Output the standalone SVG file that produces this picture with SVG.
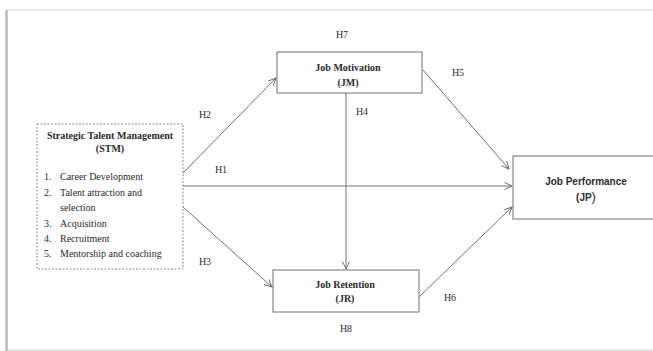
<svg xmlns="http://www.w3.org/2000/svg" width="653" height="351" viewBox="0 0 653 351">
<style>
.t{font-family:"Liberation Serif","Times New Roman",serif;font-size:10px;fill:#2a2a2a}
.b{font-weight:bold}
.s{font-family:"Liberation Sans",Arial,sans-serif;font-size:10px;font-weight:bold;fill:#2a2a2a}
.box{fill:#fff;stroke:#6e6e6e;stroke-width:1}
.c line{stroke:#707070;stroke-width:1;marker-end:url(#ah)}
</style>
<defs>
<marker id="ah" markerUnits="userSpaceOnUse" markerWidth="10" markerHeight="10" refX="8" refY="4" orient="auto">
<path d="M0.5,0.5 L8,4 L0.5,7.5" fill="none" stroke="#707070" stroke-width="1"/>
</marker>
</defs>
<rect width="653" height="351" fill="#fff"/>
<g id="frame">
<line x1="7" y1="10" x2="653" y2="10" stroke="#e6e6e6" stroke-width="1.5"/>
<line x1="7" y1="350" x2="653" y2="350" stroke="#dcdcdc" stroke-width="1.5"/>
<line x1="6.5" y1="10" x2="6.5" y2="351" stroke="#b8b8b8" stroke-width="2.5"/>
</g>
<g class="c" id="connectors">
<line x1="183" y1="173" x2="276" y2="78"/>
<line x1="183" y1="186" x2="512" y2="186"/>
<line x1="183" y1="207" x2="272" y2="287"/>
<line x1="346" y1="93" x2="346" y2="269"/>
<line x1="423" y1="70" x2="509" y2="169"/>
<line x1="419" y1="297" x2="512" y2="207"/>
</g>
<g id="labels" class="t" text-anchor="middle">
<text x="342" y="38">H7</text>
<text x="458" y="76">H5</text>
<text x="205" y="118">H2</text>
<text x="362" y="115">H4</text>
<text x="221" y="173">H1</text>
<text x="205" y="265">H3</text>
<text x="450" y="301">H6</text>
<text x="346" y="332">H8</text>
</g>
<g id="STM">
<rect x="37" y="124" width="146" height="145" fill="#fff" stroke="#8a8a8a" stroke-width="1" stroke-dasharray="2,1.5"/>
<text class="t b" x="110" y="138.5" text-anchor="middle">Strategic Talent Management</text>
<text class="t b" x="110" y="151.5" text-anchor="middle">(STM)</text>
<g class="t">
<text x="44" y="179.5">1.</text><text x="60" y="179.5">Career Development</text>
<text x="44" y="195.5">2.</text><text x="60" y="195.5">Talent attraction and</text>
<text x="60" y="210.5">selection</text>
<text x="44" y="226.5">3.</text><text x="60" y="226.5">Acquisition</text>
<text x="44" y="241.5">4.</text><text x="60" y="241.5">Recruitment</text>
<text x="44" y="256.5">5.</text><text x="60" y="256.5">Mentorship and coaching</text>
</g>
</g>
<g id="JM">
<rect class="box" x="277" y="52" width="145" height="41"/>
<text class="t b" x="348" y="70.5" text-anchor="middle">Job Motivation</text>
<text class="t b" x="348" y="85.5" text-anchor="middle">(JM)</text>
</g>
<g id="JR">
<rect class="box" x="273" y="270" width="146" height="42"/>
<text class="t b" x="345" y="287.5" text-anchor="middle">Job Retention</text>
<text class="t b" x="345" y="301.5" text-anchor="middle">(JR)</text>
</g>
<g id="JP">
<rect class="box" x="513" y="156" width="145" height="63"/>
<text class="s" x="586" y="184.5" text-anchor="middle">Job Performance</text>
<text class="s" x="586" y="201" text-anchor="middle">(JP<tspan font-size="13" font-weight="normal">)</tspan></text>
</g>
</svg>
